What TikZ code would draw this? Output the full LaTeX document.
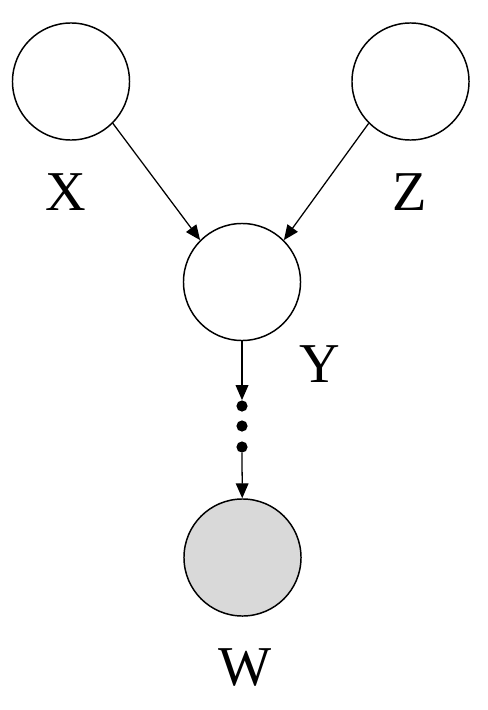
\documentclass[tikz,border=0pt]{standalone}
\usepackage{fontspec}
\setmainfont{Liberation Serif}
\usetikzlibrary{arrows.meta, positioning}
\definecolor{cshade}{HTML}{D9D9D9}
\tikzset{
  every picture/.style={x=0.025cm, y=-0.025cm},
  var/.style={circle, draw=black, fill=#1, line width=1.05pt, minimum size=2.925cm, inner sep=0pt},
  var/.default=white,
  dot/.style={circle, fill=black, minimum size=0.28cm, inner sep=0pt},
  arc/.style={-{Triangle[length=10.6pt, width=9pt]}, draw=black, line width=0.9pt},
  varname/.style={font=\fontsize{40}{48}\selectfont, inner sep=0pt},
}

\begin{document}
\begin{tikzpicture}
  \useasboundingbox (0,0) rectangle (487,710);
  % variables
  \node[var] (X) at (71,81.5) {};
  \node[var] (Z) at (410.5,81.5) {};
  \node[var] (Y) at (242,282) {};
  \node[var=cshade] (W) at (242.5,557.5) {};
  % names
  \node[varname] (xl) at (66,192) {X};
  \node[varname] (zl) at (410,192) {Z};
  \node[varname] (yl) at (320,364) {Y};
  \node[varname] (wl) at (245,668) {W};
  % chain of dots
  \node[dot] (d1) at (242,406) {};
  \node[dot] (d2) at (242,426) {};
  \node[dot] (d3) at (242,447) {};
  \draw[arc] (X.south east) -- (Y.north west);
  \draw[arc] (Z.south west) -- (Y.north east);
  \draw[arc] (Y) -- (d1);
  \draw[arc] (d3) -- (W);
\end{tikzpicture}
\end{document}
